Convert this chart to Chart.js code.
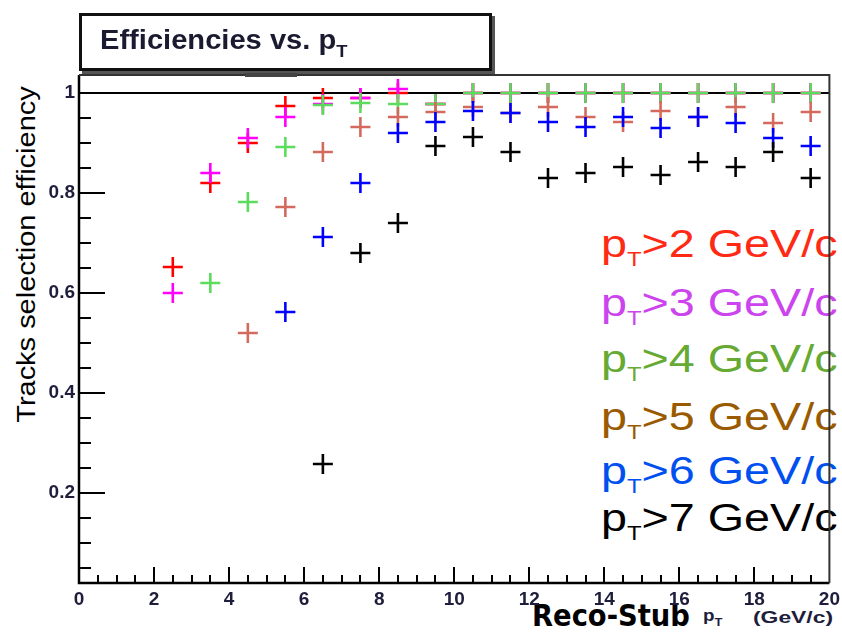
<!DOCTYPE html>
<html>
<head>
<meta charset="utf-8">
<title>Efficiencies vs. pT</title>
<script src="https://cdn.jsdelivr.net/npm/chart.js@4.4.1/dist/chart.umd.min.js"></script>
<style>
  html, body { margin: 0; padding: 0; background: #fff; }
  #wrap { position: relative; width: 842px; height: 637px; overflow: hidden; font-family: "Liberation Sans", Arial, sans-serif; }
  #chart { position: absolute; left: 0; top: 0; z-index: 2; }
  .lbl { position: absolute; white-space: nowrap; line-height: 1; transform-origin: 0 0; z-index: 1; }
  .sub { position: relative; }
  #titleBox { position: absolute; left: 79px; top: 13px; width: 407px; height: 52px; border: 3px solid #111; box-shadow: 3px 3px 0 #555; background: #fff; z-index: 1; }
</style>
</head>
<body>
<div id="wrap">
  <div id="titleBox"></div>
  <canvas id="chart" width="842" height="637"></canvas>
</div>
<script>
// bins de pT (centros)
const binCenters = [2.5, 3.5, 4.5, 5.5, 6.5, 7.5, 8.5, 9.5, 10.5, 11.5, 12.5, 13.5, 14.5, 15.5, 16.5, 17.5, 18.5, 19.5];

// eficiencias por corte en pT
const effPt2 = [0.652, 0.82, 0.90, 0.974, 0.99, 0.99, 1.0, 0.978, 1.0, 1.0, 1.0, 1.0, 1.0, 1.0, 1.0, 1.0, 1.0, 1.0];
const effPt3 = [0.60, 0.84, 0.91, 0.952, 0.978, 0.99, 1.008, 0.978, 1.0, 1.0, 1.0, 1.0, 1.0, 1.0, 1.0, 1.0, 1.0, 1.0];
const effPt4 = [null, 0.62, 0.782, 0.892, 0.976, 0.98, 0.978, 0.978, 1.0, 1.0, 1.0, 1.0, 1.0, 1.0, 1.0, 1.0, 1.0, 1.0];
const effPt5 = [null, null, 0.52, 0.772, 0.882, 0.932, 0.952, 0.962, 0.972, 0.96, 0.972, 0.952, 0.942, 0.964, 0.952, 0.972, 0.94, 0.962];
const effPt6 = [null, null, null, 0.562, 0.712, 0.82, 0.92, 0.942, 0.964, 0.96, 0.942, 0.932, 0.952, 0.93, 0.952, 0.94, 0.91, 0.894];
const effPt7 = [null, null, null, null, 0.258, 0.68, 0.74, 0.894, 0.912, 0.882, 0.83, 0.84, 0.852, 0.836, 0.862, 0.852, 0.882, 0.83];

const thresholds = [2, 3, 4, 5, 6, 7];
const seriesValues = [effPt2, effPt3, effPt4, effPt5, effPt6, effPt7];
const markerColors = ['#ff0000', '#ff00ff', '#5cdc5c', '#d4695e', '#0000ff', '#000000'];
const legendColors = ['#ff2a14', '#cc44ee', '#66aa33', '#995a00', '#0050f0', '#000000'];

const xTicks = [0, 2, 4, 6, 8, 10, 12, 14, 16, 18, 20];
const yTicks = [0.2, 0.4, 0.6, 0.8, 1];
const refLevel = 1;

// textos
const wrap = document.getElementById('wrap');
function addText(html, x, base, style, width) {
    const el = document.createElement('div');
    el.className = 'lbl';
    el.innerHTML = html;
    Object.assign(el.style, style);
    wrap.appendChild(el);
    const fs = parseFloat(style.fontSize);
    el.style.left = x + 'px';
    el.style.top = (base - 0.86 * fs) + 'px';
    if (width) el.style.transform = 'scaleX(' + (width / el.offsetWidth) + ')';
    return el;
}

addText('Efficiencies vs. p<span class="sub" style="font-size:17px;top:8px">T</span>', 100, 50,
    { fontSize: '27px', fontWeight: 'bold', color: '#1a1a30', zIndex: 3 }, 248);

const legendBase = [258, 317, 373, 431, 485, 532];
thresholds.forEach((t, i) => {
    addText('p<span class="sub" style="font-size:20px;top:9px">T</span>&gt;' + t + ' GeV/c', 601, legendBase[i],
        { fontSize: '39px', color: legendColors[i] }, 237);
});

addText('Reco-Stub', 532, 627,
    { fontSize: '31px', fontWeight: 'bold', color: '#000', fontFamily: '"Liberation Sans Narrow", "DejaVu Sans Condensed", "Liberation Sans", sans-serif' }, 158);
addText('p<span class="sub" style="font-size:11px;top:5px">T</span>', 703, 622,
    { fontSize: '16px', fontWeight: 'bold', color: '#1e1e3c' }, 20);
addText('(GeV/c)', 753, 624, { fontSize: '16px', fontWeight: 'bold', color: '#1e1e3c' }, 80);

const yl = addText('Tracks selection efficiency', 0, 0, { fontSize: '25px', color: '#000' });
const ylW = yl.offsetWidth, ylH = yl.offsetHeight;
yl.style.left = (26 - ylW / 2) + 'px';
yl.style.top = (254 - ylH / 2) + 'px';
yl.style.transformOrigin = '50% 50%';
yl.style.transform = 'rotate(-90deg) scaleX(' + (336 / ylW) + ')';

// marco estilo ROOT con ticks menores
const rootFrame = {
    id: 'rootFrame',
    afterDraw(chart) {
        const { ctx, chartArea: a, scales } = chart;
        const x = scales.x, y = scales.y;
        ctx.save();
        ctx.lineWidth = 2;
        ctx.strokeStyle = '#000';
        ctx.beginPath();
        for (let k = 1; k <= 20; k++) {
            const py = Math.round(y.getPixelForValue(k * 0.05));
            const len = (k % 4 === 0) ? 26 : 12;
            ctx.moveTo(a.left, py);
            ctx.lineTo(a.left + len, py);
        }
        for (let k = 1; k < 40; k++) {
            const px = Math.round(x.getPixelForValue(k * 0.5));
            const len = (k % 4 === 0) ? 16 : 8;
            ctx.moveTo(px, a.bottom);
            ctx.lineTo(px, a.bottom - len);
        }
        ctx.stroke();
        // ejes
        ctx.lineWidth = 2.5;
        ctx.beginPath();
        ctx.moveTo(a.left, a.top);
        ctx.lineTo(a.left, a.bottom);
        ctx.lineTo(a.right, a.bottom);
        ctx.stroke();
        ctx.strokeStyle = '#333';
        ctx.lineWidth = 2;
        ctx.beginPath();
        ctx.moveTo(a.left, a.top);
        ctx.lineTo(a.right, a.top);
        ctx.lineTo(a.right, a.bottom);
        ctx.stroke();
        ctx.fillStyle = '#444';
        ctx.fillRect(245, a.top - 2, 52, 4);
        ctx.restore();
    }
};

const datasets = seriesValues.map((vals, i) => ({
    label: 'pT>' + thresholds[i] + ' GeV/c',
    data: binCenters.map((c, j) => ({ x: c, y: vals[j] })).filter(p => p.y !== null),
    pointStyle: 'cross',
    pointRadius: 10,
    pointHoverRadius: 10,
    borderWidth: 2.6,
    borderColor: markerColors[i],
    backgroundColor: markerColors[i],
    order: 6 - i
}));

datasets.push({
    type: 'line',
    label: 'ref',
    data: [{ x: 0, y: refLevel }, { x: 20, y: refLevel }],
    borderColor: '#000',
    borderWidth: 2.2,
    pointRadius: 0,
    order: 10
});

const tickFont = { family: 'Liberation Sans', weight: 'bold', size: 19 };

new Chart(document.getElementById('chart'), {
    type: 'scatter',
    data: { datasets: datasets },
    options: {
        responsive: false,
        animation: false,
        events: [],
        layout: { padding: { top: 75, right: 9, left: 0, bottom: 0 } },
        plugins: { legend: { display: false }, tooltip: { enabled: false } },
        scales: {
            x: {
                type: 'linear', min: 0, max: 20,
                grid: { display: false, drawTicks: false }, border: { display: false },
                ticks: { padding: 5, color: '#1e1e3c', font: tickFont, maxRotation: 0, autoSkip: false },
                afterBuildTicks: s => { s.ticks = xTicks.map(v => ({ value: v })); },
                afterFit: s => { s.height = 54; s.paddingLeft = 0; s.paddingRight = 0; }
            },
            y: {
                type: 'linear', min: 0.02, max: 1.036,
                grid: { display: false, drawTicks: false }, border: { display: false },
                ticks: { padding: 4, color: '#1e1e3c', font: tickFont, callback: v => String(v) },
                afterBuildTicks: s => { s.ticks = yTicks.map(v => ({ value: v })); },
                afterFit: s => { s.width = 79; s.paddingTop = 0; s.paddingBottom = 0; }
            }
        }
    },
    plugins: [rootFrame]
});
</script>
</body>
</html>
